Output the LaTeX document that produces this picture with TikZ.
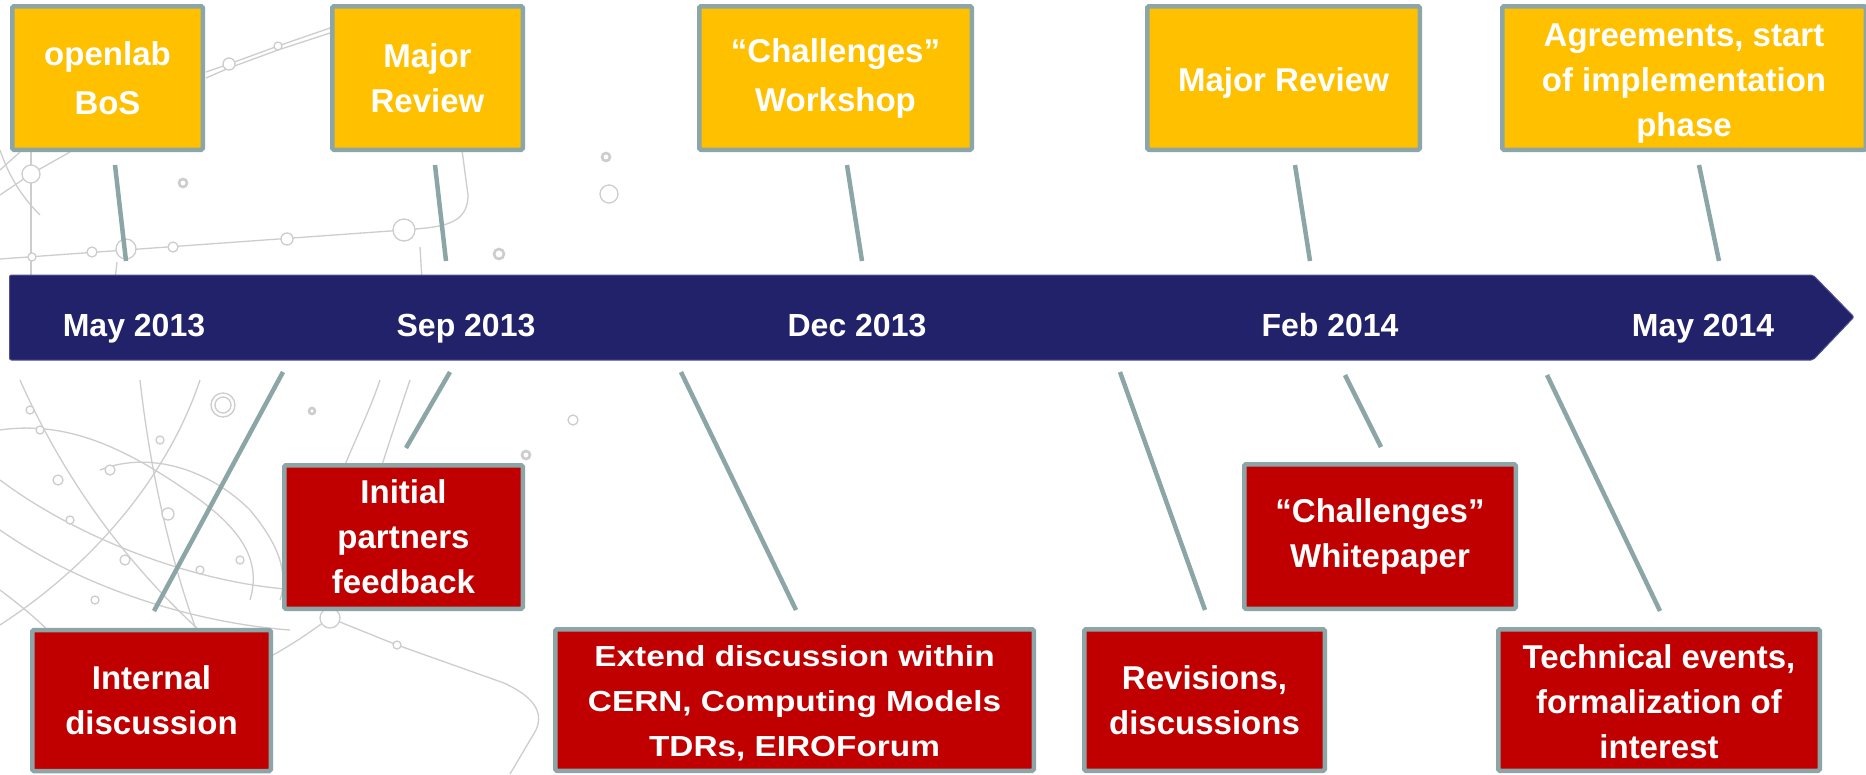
\documentclass[tikz,border=0pt]{standalone}
\usepackage{fontspec}
\setmainfont{Liberation Sans}
\newfontfamily\widefont[FakeStretch=1.15]{Liberation Sans}
\definecolor{gold}{HTML}{FFC000}
\definecolor{boxred}{HTML}{C00000}
\definecolor{edge}{HTML}{8CA6A8}
\definecolor{navy}{HTML}{22226A}
\definecolor{navyedge}{HTML}{50508E}
\definecolor{decogray}{HTML}{CDCDCD}
\tikzset{
  evbox/.style={rectangle, draw=edge, line width=4.5pt, rounded corners=1.5pt, inner sep=0pt,
    text=white, align=center, font=\bfseries\fontsize{33}{45}\selectfont},
  topbox/.style={evbox, fill=gold},
  botbox/.style={evbox, fill=boxred},
  boxtext/.style={text=white, align=center, inner sep=0pt, font=\bfseries\fontsize{33}{45}\selectfont},
  link/.style={draw=edge, line width=4.5pt},
  month/.style={text=white, font=\bfseries\fontsize{32}{38}\selectfont, anchor=base, inner sep=0pt},
  deco/.style={draw=decogray, line width=1.3pt},
  decothick/.style={draw=decogray, line width=2.6pt}
}
\begin{document}
\begin{tikzpicture}[x=1pt,y=-1pt]
\useasboundingbox (0,0) rectangle (1866,774);
\fill[white] (0,0) rectangle (1866,774);
% ---- background decoration ----
\draw[deco] (0,259) -- (404,230) .. controls (440,227) and (468,226) .. (468,195) -- (462,150);
\draw[deco] (420,247) -- (422,280);
\draw[deco] (117,262) -- (115,280);
\draw[deco] (31,152) -- (31,280);
\draw[deco] (0,195) -- (31,174) -- (70,152);
\draw[deco] (0,170) -- (20,152);
\draw[deco] (0,150) .. controls (10,180) and (25,200) .. (40,215);
\draw[deco] (206,72) -- (229,64) -- (278,46) -- (330,28);
\draw[deco] (206,78) -- (229,68) -- (278,50) -- (330,33);
\foreach \p/\r in {{(32,257)}/4,{(92,252)}/5,{(173,247)}/5,{(287,239)}/6,{(229,64)}/6,{(278,46)}/4,{(31,174)}/9}
  \draw[deco, fill=white] \p circle (\r);
\draw[deco, fill=white] (126,249) circle (10);
\draw[deco, fill=white] (404,230) circle (11);
\draw[decothick] (183,183) circle (4);
\draw[decothick] (499,254) circle (5);
\draw[decothick] (606,157) circle (4);
\draw[deco] (609,194) circle (9);
% lower left globe-like curves
\draw[deco] (0,480) .. controls (80,540) and (200,585) .. (300,590);
\draw[deco] (0,530) .. controls (100,600) and (220,625) .. (290,630);
\draw[deco] (0,430) .. controls (70,420) and (130,450) .. (200,500) .. controls (240,530) and (262,560) .. (250,600);
\draw[deco] (20,380) .. controls (60,470) and (120,560) .. (210,640);
\draw[deco] (140,380) .. controls (150,470) and (170,560) .. (200,640);
\draw[deco] (200,380) .. controls (170,470) and (100,560) .. (0,625);
\draw[deco] (100,470) .. controls (150,450) and (210,470) .. (250,510) .. controls (275,540) and (290,570) .. (280,600);
\draw[deco] (0,590) .. controls (40,620) and (60,640) .. (70,660);
\draw[deco] (380,380) .. controls (370,410) and (355,440) .. (345,465);
\draw[deco] (410,380) .. controls (400,410) and (390,440) .. (382,465);
\draw[deco] (273,655) .. controls (300,640) and (315,628) .. (330,618) -- (397,645) -- (504,683) .. controls (530,695) and (545,710) .. (536,730) -- (510,774);
\foreach \p/\r in {{(40,430)}/4,{(58,480)}/5,{(110,470)}/5,{(70,520)}/4,{(168,514)}/6,{(125,560)}/5,{(200,570)}/4,{(240,560)}/4,{(95,600)}/4,{(397,645)}/4,{(30,410)}/4,{(160,440)}/4}
  \draw[deco, fill=white] \p circle (\r);
\draw[deco, fill=white] (330,618) circle (10);
\draw[deco] (223,405) circle (12);
\draw[deco] (223,405) circle (8);
\draw[decothick] (312,411) circle (3);
\draw[deco] (573,420) circle (5);
\draw[decothick] (526,455) circle (4);
% ---- timeline arrow ----
\fill[navy, draw=navyedge, line width=1pt, rounded corners=2pt]
  (9.5,275) -- (1813,275) -- (1854,317) -- (1813,360) -- (9.5,360) -- cycle;
\node[month] (m1) at (134,336) {May 2013};
\node[month] (m2) at (466,336) {Sep 2013};
\node[month] (m3) at (857,336) {Dec 2013};
\node[month] (m4) at (1330,336) {Feb 2014};
\node[month] (m5) at (1703,336) {May 2014};
% ---- top boxes ----
\node[topbox, minimum width=190.5pt, minimum height=143.5pt, font=\bfseries\fontsize{33}{49}\selectfont] (bos) at (107.5,78) {openlab\\BoS};
\node[topbox, minimum width=190.5pt, minimum height=143.5pt] (rev1) at (427.5,78) {Major\\Review};
\node[topbox, minimum width=272.5pt, minimum height=143.5pt, font=\bfseries\fontsize{33}{49}\selectfont] (work) at (835.5,78) {“Challenges”\\Workshop};
\node[topbox, minimum width=272.5pt, minimum height=143.5pt] (rev2) at (1283.5,78) {};
\node[boxtext] (rev2t) at (1283.5,83) {Major Review};
\node[topbox, minimum width=363.5pt, minimum height=143.5pt] (agree) at (1684,78) {};
\node[boxtext] (agreet) at (1684,84) {Agreements, start\\of implementation\\phase};
% ---- bottom boxes ----
\node[botbox, minimum width=238.5pt, minimum height=141pt] (intd) at (151.5,700.5) {Internal\\discussion};
\node[botbox, minimum width=238.5pt, minimum height=143.5pt] (init) at (403.5,537) {Initial\\partners\\feedback};
\node[botbox, minimum width=478.5pt, minimum height=141.5pt] (ext) at (794.5,700) {};
\node[boxtext, font=\widefont\bfseries\fontsize{29}{45}\selectfont] (extt) at (794.5,703) {Extend discussion within\\CERN, Computing Models\\TDRs, EIROForum};
\node[botbox, minimum width=240.5pt, minimum height=141.5pt] (revs) at (1204.5,700) {Revisions,\\discussions};
\node[botbox, minimum width=271.5pt, minimum height=144.5pt] (white) at (1380,536.5) {“Challenges”\\Whitepaper};
\node[botbox, minimum width=321.5pt, minimum height=141.5pt] (tech) at (1659,700) {};
\node[boxtext] (techt) at (1659,702) {Technical events,\\formalization of\\interest};
% ---- connector end points ----
\coordinate (bosA) at (115,165);   \coordinate (bosB) at (126,261);
\coordinate (rev1A) at (435,165);  \coordinate (rev1B) at (446,261);
\coordinate (workA) at (847,165);  \coordinate (workB) at (862,261);
\coordinate (rev2A) at (1295,165); \coordinate (rev2B) at (1310,261);
\coordinate (agreeA) at (1699,165);\coordinate (agreeB) at (1719,261);
\coordinate (intdA) at (283,372);  \coordinate (intdB) at (154,611);
\coordinate (initA) at (450,372);  \coordinate (initB) at (406,448);
\coordinate (extA) at (681,372);   \coordinate (extB) at (796,610);
\coordinate (revsA) at (1120,372); \coordinate (revsB) at (1205,610);
\coordinate (whiteA) at (1345,375);\coordinate (whiteB) at (1381,447);
\coordinate (techA) at (1547,375); \coordinate (techB) at (1660,611);
\foreach \n in {bos,rev1,work,rev2,agree,intd,init,ext,revs,white,tech}
  \draw[link] (\n A) -- (\n B);
\end{tikzpicture}
\end{document}
